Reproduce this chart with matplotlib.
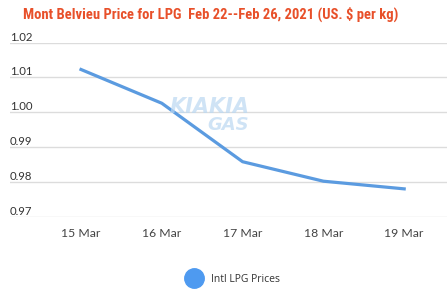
import matplotlib
matplotlib.use("Agg")
import matplotlib.pyplot as plt
from matplotlib.lines import Line2D

categories = ["15 Mar", "16 Mar", "17 Mar", "18 Mar", "19 Mar"]
values = [1.0123, 1.0026, 0.9858, 0.9802, 0.9780]
yticks = [0.97, 0.98, 0.99, 1.00, 1.01, 1.02]
series_name = "Intl LPG Prices"
title = "Mont Belvieu Price for LPG  Feb 22--Feb 26, 2021 (US. $ per kg)"

W, H = 447, 294
fig = plt.figure(figsize=(W / 100, H / 100), dpi=100)
fig.patch.set_facecolor("white")
ax = fig.add_axes([10 / W, 1 - 216.7 / H, (W - 10) / W, (216.7 - 42.7) / H])

x = list(range(len(categories)))
ax.plot(x, values, color="#5B9BE0", lw=2.3, solid_joinstyle="round", zorder=3)
ax.set_xlim(-0.879, 4.53)
ax.set_ylim(0.97, 1.02)

for s in ax.spines.values():
    s.set_visible(False)
for t in yticks:
    ax.axhline(t, color="#DCDCDC", lw=1.0, zorder=1)
    ax.text(0, t, f"{t:.2f}", transform=ax.get_yaxis_transform(), ha="left", va="bottom",
            fontsize=8.2, color="#333333", family="Lato")
ax.set_yticks([])
ax.set_xticks(x)
ax.set_xticklabels(categories, fontsize=8.8, color="#444444", family="Lato")
ax.tick_params(axis="x", length=0, pad=8)

# watermark
fig.text(210 / W, 1 - 107 / H, "KIAKIA", fontsize=15, fontweight="bold", style="italic",
         color="#BBD8F2", alpha=0.7, ha="center", va="center", family="DejaVu Sans", zorder=0)
fig.text(228 / W, 1 - 125 / H, "GAS", fontsize=13, fontweight="bold", style="italic",
         color="#BBD8F2", alpha=0.7, ha="center", va="center", family="DejaVu Sans", zorder=0)

fig.text(211 / W, 1 - 14 / H, title, fontsize=10.5, fontweight="bold", color="#E8502A",
         ha="center", va="center", family=["Roboto Condensed", "Roboto"])

fig.legend(handles=[Line2D([], [], marker="o", ls="none", markersize=14,
                           markerfacecolor="#4E9AF0", markeredgecolor="#4E9AF0")],
           labels=[series_name], loc="center", bbox_to_anchor=(232 / W, 1 - 279 / H),
           frameon=False, prop={"family": "Open Sans", "size": 7.5}, handletextpad=0.6,
           labelcolor="#333333")

fig.savefig("out.png", dpi=100, facecolor="white")
